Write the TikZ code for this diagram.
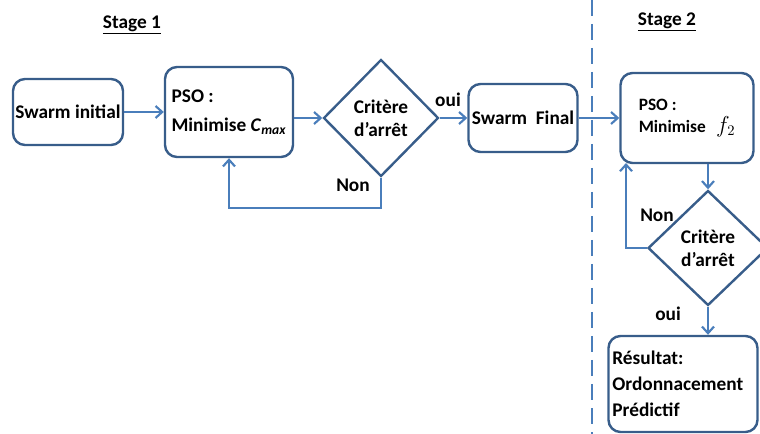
\documentclass[tikz,border=0pt]{standalone}
\usepackage{fontspec}
\setmainfont{Carlito}
\usetikzlibrary{shapes.geometric, arrows.meta, positioning}
\definecolor{lineblue}{RGB}{74,126,187}
\definecolor{edgeblue}{RGB}{56,93,138}

\begin{document}
\begin{tikzpicture}[
        x=0.75pt, y=-0.75pt,
        box/.style={rectangle, rounded corners=9pt, draw=edgeblue, line width=1.8pt,
            inner sep=1pt, font=\fontsize{14.5}{22}\selectfont\bfseries},
        decision/.style={diamond, draw=edgeblue, line width=1.8pt, inner sep=0pt,
            align=center, font=\fontsize{14.5}{17.5}\selectfont\bfseries},
        arrow/.style={-{Straight Barb[length=5pt,width=9pt]}, draw=lineblue, line width=1.6pt},
        lbl/.style={font=\fontsize{14.5}{16}\selectfont\bfseries},
        stage/.style={font=\fontsize{14.5}{16}\selectfont\bfseries}
    ]
        \useasboundingbox (0,0) rectangle (760,434);
        \clip (0,0) rectangle (760,434);

        % stage 1
        \node[stage] (S1) at (132,25) {\underline{Stage 1}};
        \node[box, minimum width=82.5pt, minimum height=49.5pt] (SI) at (68,112) {Swarm initial};
        \node[box, minimum width=96pt, minimum height=67.5pt, align=left] (P1) at (229,112)
            {PSO :\\Minimise \textit{C}\textsubscript{\textit{max}}};
        \node[decision, minimum width=86.25pt, minimum height=87.75pt] (D1) at (381,118) {Critère\\d’arrêt};
        \node[box, minimum width=81.75pt, minimum height=51pt] (SF) at (523,118) {Swarm\ \ Final};
        \node[lbl] (oui1) at (448,100) {oui};
        \node[lbl] (non1) at (353,185) {Non};
        \coordinate (back1) at (229,208);

        \draw[arrow] (SI) -- (P1);
        \draw[arrow] (P1.east |- D1) -- (D1);
        \draw[arrow] (D1) -- (SF);
        \draw[arrow] (D1.south) |- (back1) -- (P1.south);

        % separation
        \draw[lineblue, line width=1.6pt, dash pattern=on 12pt off 6pt] (592,0) -- (592,434);

        % stage 2
        \node[stage] (S2) at (667,22) {\underline{Stage 2}};
        \node[box, minimum width=99.75pt, minimum height=67.5pt, align=left,
            font=\fontsize{13}{16.5}\selectfont\bfseries] (P2) at (687,118)
            {PSO :\\Minimise\hspace{0.6em}{\fontsize{16}{16}\selectfont$f_2$}};
        \node[decision, minimum width=90pt, minimum height=86.25pt] (D2) at (708,248) {Critère\\d’arrêt};
        \node[box, minimum width=111.75pt, minimum height=72pt, text width=106pt, inner sep=0pt,
            align=left, font=\fontsize{14.5}{19.5}\selectfont\bfseries] (R) at (683,384)
            {Résultat:\\Ordonnacement\\Prédictif};
        \node[lbl] (non2) at (657,215) {Non};
        \node[lbl] (oui2) at (668,314) {oui};
        \coordinate (back2) at (626,163);

        \draw[arrow] (SF) -- (P2.west |- SF);
        \draw[arrow] (P2.south -| D2) -- (D2.north);
        \draw[arrow] (D2.west) -| (back2);
        \draw[arrow] (D2.south) -- (R.north -| D2);
    \end{tikzpicture}
\end{document}
